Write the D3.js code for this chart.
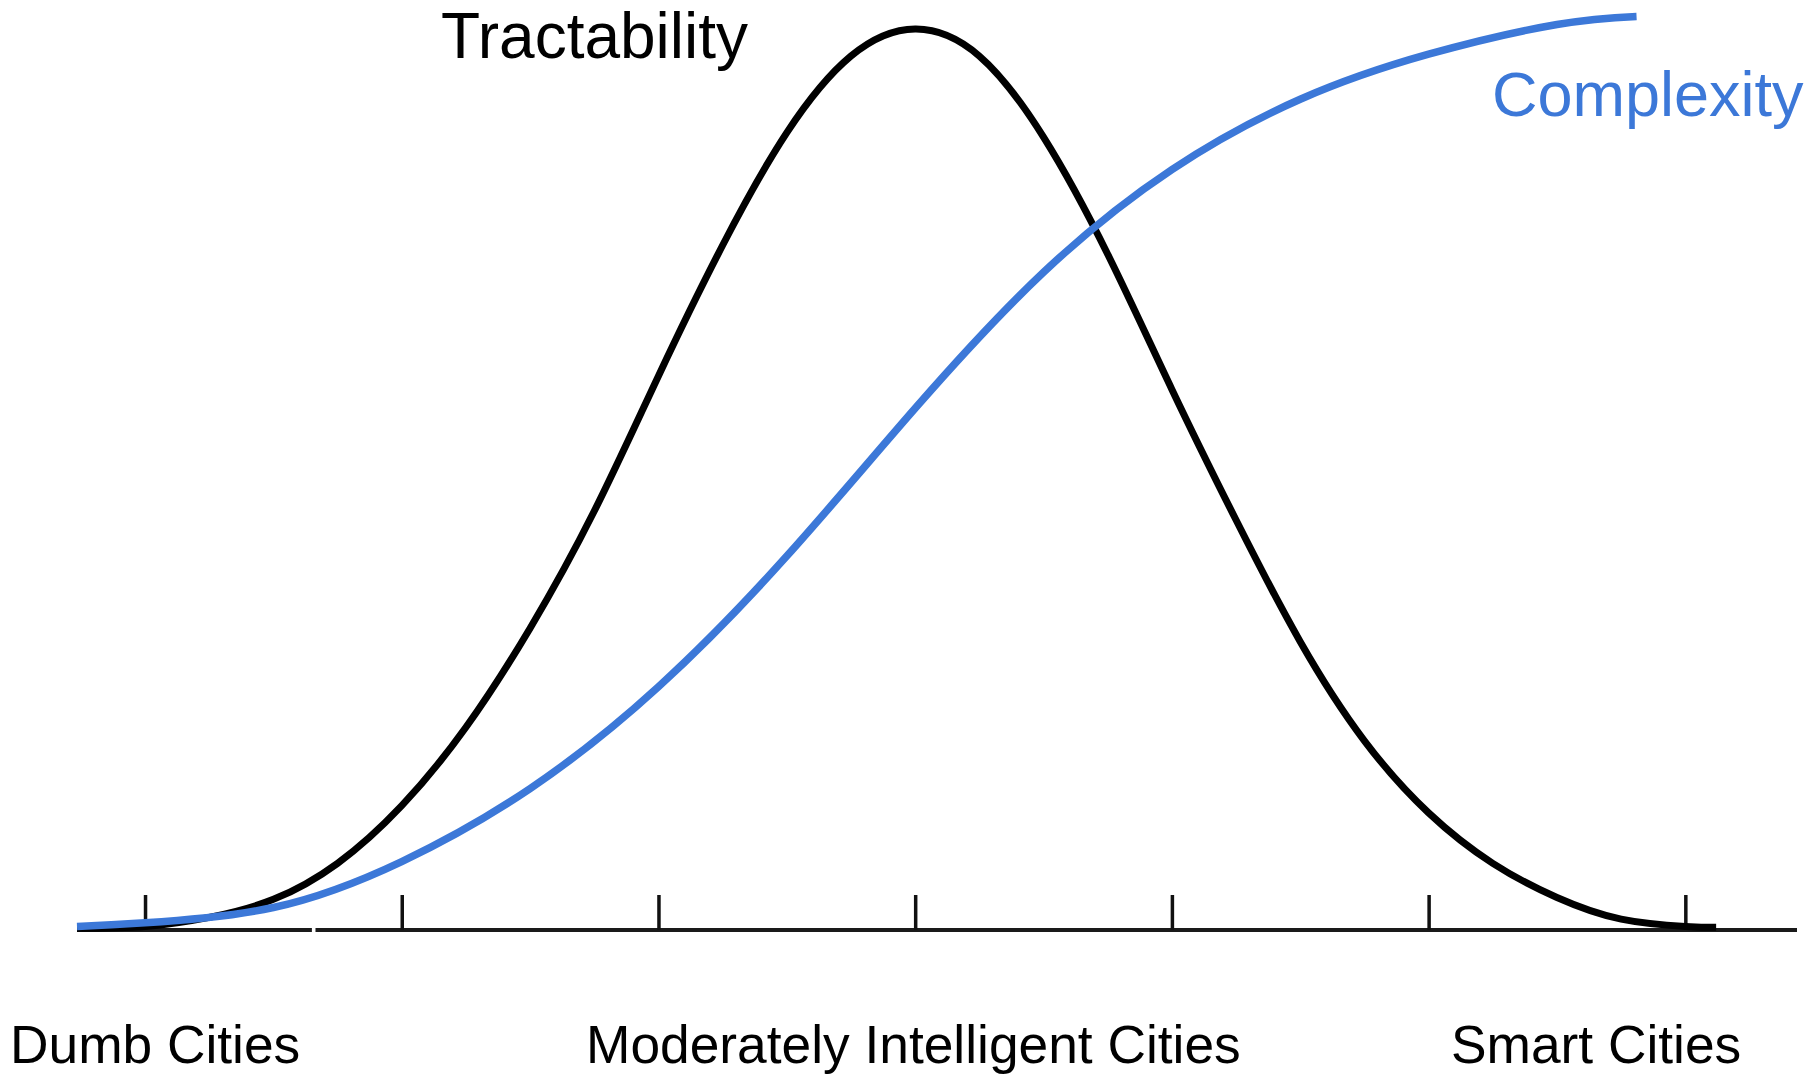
<!DOCTYPE html>
<html>
<head>
<meta charset="utf-8">
<script src="https://cdn.jsdelivr.net/npm/d3@7"></script>
<style>
  html, body { margin: 0; padding: 0; background: #ffffff; }
  svg { display: block; }
  text { font-family: "Liberation Sans", Arial, Helvetica, sans-serif; }
</style>
</head>
<body>
<svg id="chart" width="1820" height="1075"></svg>
<script>
// Position along the city-intelligence scale (tick units) for the tractability curve
const tractX = [-0.265, 0, 0.25, 0.5, 0.75, 1, 1.25, 1.5, 1.75, 2, 2.25, 2.5, 2.75, 3,
                3.25, 3.5, 3.75, 4, 4.25, 4.5, 4.75, 5, 5.25, 5.5, 5.75, 6, 6.12];
// Tractability, relative to its peak
const tractY = [0.2, 0.4, 1.4, 3.4, 7.4, 13.8, 22.5, 33.5, 46.5, 61.5, 76.0, 88.5, 97.0, 100,
                97.0, 88.0, 75.0, 60.0, 45.5, 32.0, 21.0, 13.0, 7.4, 3.6, 1.2, 0.4, 0.3];

// Complexity curve
const complexX = [-0.265, 0, 0.5, 1, 1.5, 2, 2.5, 3, 3.5, 4, 4.5, 5, 5.5, 5.81];
const complexY = [0.4, 0.8, 2.5, 7.6, 15.7, 27.0, 41.5, 57.9, 73.0, 84.4, 92.2, 97.2, 100.5, 101.4];

// Tick positions on the horizontal axis
const tickValues = [0, 1, 2, 3, 4, 5, 6];
const axisDomain = [-0.265, 6.435];
const axisBreak = [0.65, 0.664];

// Category labels under the axis
const categoryLabels = ["Dumb Cities", "Moderately Intelligent Cities", "Smart Cities"];
const seriesLabels = ["Tractability", "Complexity"];

const svg = d3.select("#chart");

const x = d3.scaleLinear().domain(axisDomain).range([77, 1797]);
const y = d3.scaleLinear().domain([0, 100]).range([930, 29]);

// Axis line with a small break near the left end
const axisG = svg.append("g").attr("class", "axis");
[[axisDomain[0], axisBreak[0]], [axisBreak[1], axisDomain[1]]].forEach(([a, b]) => {
  axisG.append("line")
    .attr("x1", x(a)).attr("x2", x(b))
    .attr("y1", y(0)).attr("y2", y(0))
    .attr("stroke", "#1a1a1a").attr("stroke-width", 4);
});

// Upward tick marks
const tickAxis = d3.axisBottom(x)
  .tickValues(tickValues)
  .tickSizeInner(-35)
  .tickSizeOuter(0)
  .tickFormat("");
const ticksG = svg.append("g")
  .attr("transform", `translate(0,${y(0)})`)
  .call(tickAxis);
ticksG.select(".domain").remove();
ticksG.selectAll(".tick line").attr("stroke", "#111").attr("stroke-width", 3.5);

const line = d3.line()
  .x(d => x(d[0]))
  .y(d => y(d[1]))
  .curve(d3.curveNatural);

// Tractability curve
const tractData = tractX.map((v, i) => [v, tractY[i]]);
svg.append("path")
  .datum(tractData)
  .attr("d", line)
  .attr("fill", "none")
  .attr("stroke", "#000")
  .attr("stroke-width", 7)
  .attr("stroke-linejoin", "round");

// Complexity curve
const complexData = complexX.map((v, i) => [v, complexY[i]]);
svg.append("path")
  .datum(complexData)
  .attr("d", line)
  .attr("fill", "none")
  .attr("stroke", "#3c78d8")
  .attr("stroke-width", 7.5);

// Series labels
svg.append("text")
  .attr("x", 441).attr("y", 58)
  .attr("font-size", 64)
  .attr("fill", "#000")
  .text(seriesLabels[0]);

svg.append("text")
  .attr("x", 1492).attr("y", 116)
  .attr("font-size", 63)
  .attr("fill", "#3c78d8")
  .text(seriesLabels[1]);

// Category labels
const labelX = [10, 586, 1451];
svg.selectAll("text.cat")
  .data(categoryLabels)
  .join("text")
  .attr("class", "cat")
  .attr("x", (d, i) => labelX[i])
  .attr("y", 1063)
  .attr("font-size", 53.3)
  .attr("fill", "#000")
  .text(d => d);
</script>
</body>
</html>
